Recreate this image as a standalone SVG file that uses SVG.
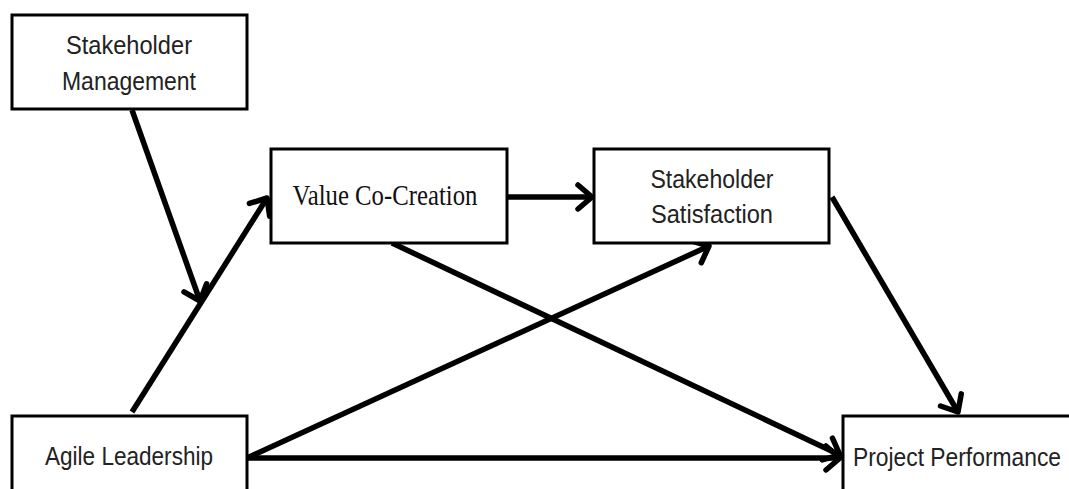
<svg xmlns="http://www.w3.org/2000/svg" width="1069" height="489" viewBox="0 0 1069 489">
<style>
.box{fill:#fff;stroke:#000;stroke-width:3}
.sans{font-family:"Liberation Sans","Noto Sans",sans-serif;font-size:25px;fill:#222}
.serif{font-family:"Liberation Serif","DejaVu Serif",serif;font-size:29px;fill:#111}
.edge{stroke:#000;stroke-width:5.5;fill:none;marker-end:url(#arr)}
</style>
<defs>
<marker id="arr" markerUnits="userSpaceOnUse" viewBox="-20 -16 26 32" markerWidth="26" markerHeight="32" refX="0" refY="0" orient="auto">
<path d="M-14,-12 L0,0 L-14,12" fill="none" stroke="#000" stroke-width="5.5" stroke-linejoin="round" stroke-linecap="round"/>
</marker>
</defs>
<rect width="1069" height="489" fill="#fff"/>
<g id="connectors">
<line class="edge" x1="132" y1="110" x2="200" y2="301"/>
<line class="edge" x1="132" y1="412" x2="267" y2="198"/>
<line class="edge" x1="507" y1="197" x2="592" y2="197"/>
<line class="edge" x1="832" y1="197" x2="958" y2="412"/>
<line class="edge" x1="392" y1="243" x2="840" y2="455"/>
<line class="edge" x1="247" y1="458" x2="709" y2="246"/>
<line class="edge" x1="247" y1="458" x2="840" y2="458"/>
</g>
<g id="stakeholder-management">
<rect class="box" x="12" y="15" width="235" height="94"/>
<text class="sans" x="129" y="54" text-anchor="middle" textLength="126" lengthAdjust="spacingAndGlyphs">Stakeholder</text>
<text class="sans" x="129" y="90" text-anchor="middle" textLength="134" lengthAdjust="spacingAndGlyphs">Management</text>
</g>
<g id="value-co-creation">
<rect class="box" x="271" y="149" width="236" height="94"/>
<text class="serif" x="385" y="205" text-anchor="middle" textLength="185" lengthAdjust="spacingAndGlyphs">Value Co-Creation</text>
</g>
<g id="stakeholder-satisfaction">
<rect class="box" x="594" y="149" width="235" height="94"/>
<text class="sans" x="712" y="188" text-anchor="middle" textLength="123" lengthAdjust="spacingAndGlyphs">Stakeholder</text>
<text class="sans" x="712" y="223" text-anchor="middle" textLength="122" lengthAdjust="spacingAndGlyphs">Satisfaction</text>
</g>
<g id="agile-leadership">
<rect class="box" x="12" y="416" width="235" height="90"/>
<text class="sans" x="45" y="465" textLength="168" lengthAdjust="spacingAndGlyphs">Agile Leadership</text>
</g>
<g id="project-performance">
<rect class="box" x="843" y="416" width="240" height="90"/>
<text class="sans" x="853" y="466" textLength="208" lengthAdjust="spacingAndGlyphs">Project Performance</text>
</g>
</svg>
